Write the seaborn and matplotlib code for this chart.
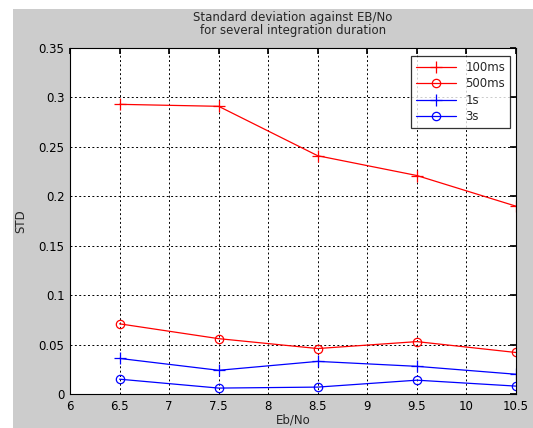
import matplotlib
matplotlib.use("Agg")
import matplotlib.pyplot as plt
from matplotlib.patches import Rectangle
import seaborn as sns
import pandas as pd

sns.set_theme(style="white")
plt.rcParams['font.family'] = ['DejaVu Sans']

ebno = [6.5, 7.5, 8.5, 9.5, 10.5]
std_100ms = [0.293, 0.291, 0.241, 0.221, 0.190]
std_500ms = [0.071, 0.056, 0.046, 0.053, 0.042]
std_1s = [0.036, 0.024, 0.033, 0.028, 0.020]
std_3s = [0.015, 0.006, 0.007, 0.014, 0.008]
series_names = ["100ms", "500ms", "1s", "3s"]
series_vals = [std_100ms, std_500ms, std_1s, std_3s]
colors = ["red", "red", "blue", "blue"]
markers = ["+", "o", "+", "o"]
msizes = [8, 6, 8, 6]

rows = []
for name, vals in zip(series_names, series_vals):
    for x, v in zip(ebno, vals):
        rows.append({"Eb/No": x, "STD": v, "series": name})
df = pd.DataFrame(rows)

fig = plt.figure(figsize=(5.33, 4.28), dpi=100, facecolor="white")
fig.patches.append(Rectangle((13 / 533, 0), 1 - 13 / 533, 1 - 9 / 428,
                             transform=fig.transFigure, facecolor="#cccccc",
                             edgecolor="none", zorder=-10))
ax = fig.add_axes([0.1313, 0.0794, 0.8367, 0.8085])
ax.set_facecolor("white")

for name, c, m, ms in zip(series_names, colors, markers, msizes):
    sub = df[df["series"] == name]
    sns.lineplot(data=sub, x="Eb/No", y="STD", ax=ax, color=c, marker=m,
                 markersize=ms, linewidth=0.9, markerfacecolor="none",
                 markeredgecolor=c, markeredgewidth=0.9, label=name)

ax.set_xlim(6, 10.5)
ax.set_ylim(0, 0.35)
ax.set_xticks([6, 6.5, 7, 7.5, 8, 8.5, 9, 9.5, 10, 10.5])
ax.set_xticklabels(["6", "6.5", "7", "7.5", "8", "8.5", "9", "9.5", "10", "10.5"])
ax.set_yticks([0, 0.05, 0.1, 0.15, 0.2, 0.25, 0.3, 0.35])
ax.set_yticklabels(["0", "0.05", "0.1", "0.15", "0.2", "0.25", "0.3", "0.35"])
ax.grid(True, color="black", linestyle=(0, (2, 2.5)), linewidth=0.7)
ax.tick_params(direction="in", top=True, right=True, length=4, labelsize=8.5,
               colors="black", pad=4)
for sp in ax.spines.values():
    sp.set_color("black")
    sp.set_linewidth(0.8)

ax.set_xlabel("Eb/No", fontsize=8.5, labelpad=1)
ax.set_ylabel("STD", fontsize=8.5, labelpad=8)
ax.set_title("Standard deviation against EB/No\nfor several integration duration",
             fontsize=8.5, pad=10, linespacing=1.0)

leg = ax.legend(loc="upper right", fontsize=8.5, frameon=True, fancybox=False,
                edgecolor="black", borderpad=0.4, handlelength=3.4,
                labelspacing=0.3, borderaxespad=0,
                bbox_to_anchor=(0.987, 0.977))
leg.get_frame().set_linewidth(0.9)

fig.savefig("out.png", dpi=100, facecolor=fig.get_facecolor())
